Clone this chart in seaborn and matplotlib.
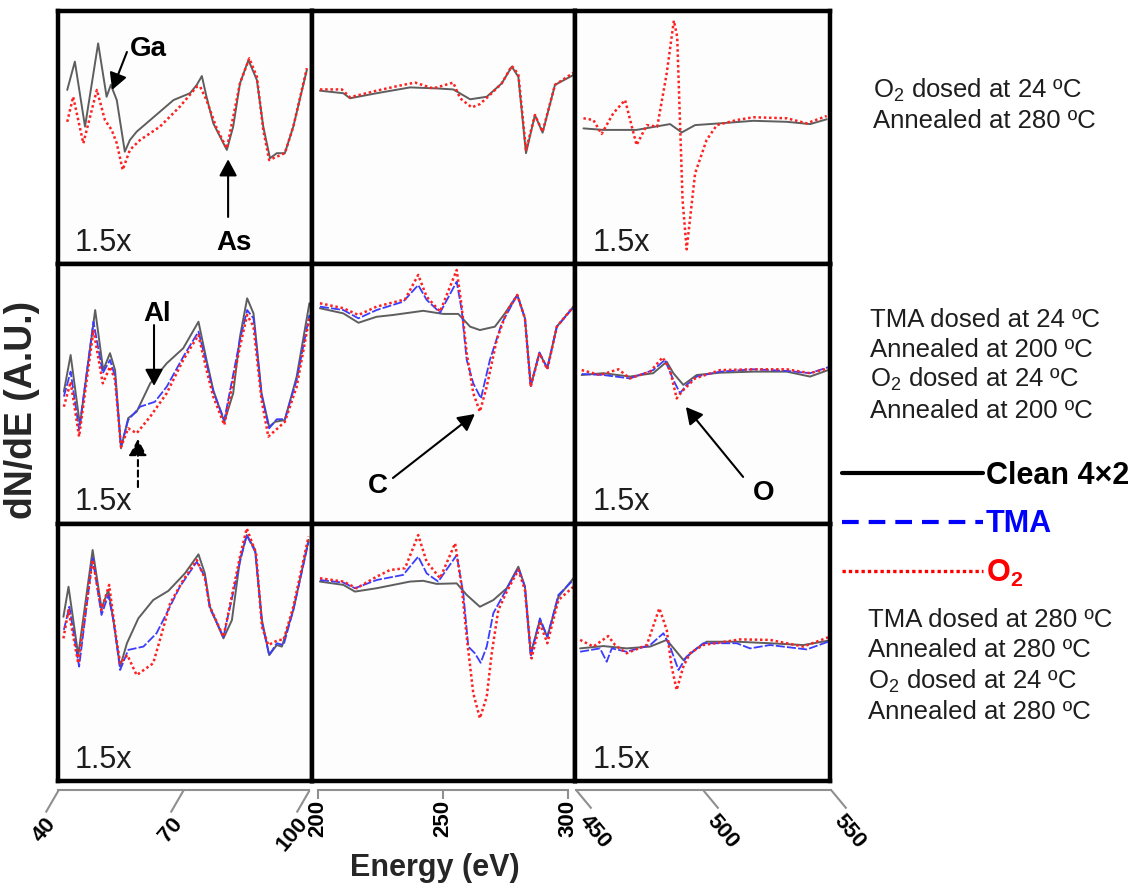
import matplotlib
matplotlib.use("Agg")
import matplotlib.pyplot as plt
from matplotlib.path import Path
from matplotlib.markers import MarkerStyle
from matplotlib.lines import Line2D
from matplotlib.transforms import ScaledTranslation
import pandas as pd
import seaborn as sns

# ---------------------------------------------------------------------------
# Auger spectra (dN/dE, arbitrary units) read per panel
# rows: O2 only / TMA 24 C + O2 / TMA 280 C + O2
# columns: Ga-As region (40-100 eV), C region (200-300 eV), O region (450-550 eV)
# ---------------------------------------------------------------------------

# --- row 1: O2 dosed at 24 C, annealed at 280 C ---
o2only_gaas_clean_e = [42.3, 44.1, 46.5, 49.6, 51.6, 52.6, 54.0, 55.9, 57.1, 58.7, 61.9, 67.4, 71.3, 72.9,
                       74.1, 75.2, 76.8, 78.8, 80.0, 81.5, 83.1, 85.1, 87.1, 88.6, 90.2, 91.8, 93.7, 95.7, 98.9]
o2only_gaas_clean = [68.8, 80.0, 54.3, 87.2, 66.1, 70.8, 64.8, 44.4, 49.0, 52.3, 56.9, 64.8, 67.5, 70.8,
                     74.3, 66.1, 55.6, 49.0, 45.1, 54.3, 71.4, 80.6, 72.7, 54.3, 41.8, 43.8, 43.8, 54.3, 76.7]
o2only_gaas_o2_e = [42.3, 43.7, 46.1, 49.3, 51.2, 52.8, 54.0, 55.4, 57.1, 59.5, 64.2, 68.9, 72.9, 73.7,
                    75.2, 77.6, 80.0, 83.1, 85.3, 87.1, 88.6, 90.0, 93.7, 95.7, 98.9]
o2only_gaas_o2 = [56.2, 66.1, 47.7, 68.8, 56.9, 53.0, 47.7, 37.2, 45.1, 49.0, 54.3, 62.2, 70.1, 70.1,
                  64.8, 53.6, 45.7, 71.4, 81.3, 74.0, 53.0, 41.1, 43.8, 54.3, 77.4]

o2only_carbon_clean_e = [203.2, 212.1, 214.6, 224.7, 237.4, 247.5, 253.8, 260.2, 266.5, 272.2, 276.0, 278.5,
                         281.4, 284.8, 287.7, 292.4, 299.4]
o2only_carbon_clean = [68.5, 67.5, 65.5, 67.5, 69.8, 69.4, 69.0, 65.1, 66.1, 71.4, 78.0, 74.0,
                       43.8, 58.9, 51.9, 70.8, 74.7]
o2only_carbon_o2_e = [203.2, 211.5, 214.6, 224.7, 232.9, 239.3, 246.2, 253.8, 256.4, 260.8, 263.9, 267.7,
                      272.2, 276.0, 278.5, 281.4, 284.8, 287.7, 292.4, 299.4]
o2only_carbon_o2 = [69.0, 69.0, 65.9, 68.5, 70.4, 71.7, 69.4, 71.7, 65.5, 61.9, 63.2, 66.8,
                    71.4, 78.3, 75.0, 45.1, 58.9, 52.3, 70.8, 75.6]

o2only_oxygen_clean_e = [453.3, 461.1, 474.1, 487.2, 491.8, 497.0, 506.8, 519.8, 532.9, 542.0, 548.5]
o2only_oxygen_clean = [53.6, 53.0, 53.0, 55.3, 52.0, 54.9, 55.6, 56.6, 56.2, 55.3, 57.2]
o2only_oxygen_o2_e = [453.3, 457.2, 460.4, 465.0, 469.6, 474.1, 478.1, 482.2, 485.9, 488.7, 490.0, 492.1,
                      493.7, 497.0, 501.5, 505.5, 513.3, 519.8, 532.9, 540.7, 548.5]
o2only_oxygen_o2 = [57.6, 56.9, 51.4, 59.6, 64.8, 47.0, 54.9, 54.3, 75.4, 96.2, 89.8, 25.3,
                    5.8, 35.8, 49.0, 54.9, 56.9, 58.0, 57.6, 55.6, 58.5]

# --- row 2: TMA dosed at 24 C, annealed at 200 C, then O2 ---
tma24_gaas_clean_e = [41.5, 43.1, 45.3, 48.9, 50.8, 52.4, 53.6, 55.0, 56.7, 58.7, 61.9, 65.8, 69.7, 73.3,
                      75.2, 76.8, 79.4, 81.5, 83.1, 84.8, 86.3, 88.2, 90.0, 91.4, 93.7, 96.5, 99.5]
tma24_gaas_clean = [50.9, 65.0, 38.1, 82.3, 59.2, 65.7, 59.2, 29.1, 40.7, 43.2, 54.1, 61.8, 67.6, 77.8,
                    63.1, 51.5, 39.3, 50.3, 72.0, 86.8, 81.0, 50.3, 37.4, 39.3, 40.0, 56.7, 84.9]
tma24_gaas_tma_e = [41.5, 43.1, 45.1, 48.5, 50.7, 52.4, 53.6, 55.0, 56.7, 59.5, 63.0, 65.8, 69.7, 73.3,
                    75.2, 76.8, 79.4, 83.1, 84.8, 86.3, 88.2, 90.0, 91.8, 93.7, 96.5, 99.5]
tma24_gaas_tma = [49.0, 58.6, 36.2, 77.8, 58.0, 63.1, 56.7, 29.7, 40.0, 45.1, 47.0, 52.8, 64.3, 74.0,
                  61.8, 50.9, 40.0, 70.8, 82.3, 79.1, 49.6, 36.8, 40.3, 40.3, 55.4, 80.4]
tma24_gaas_o2_e = [41.5, 43.1, 45.1, 48.5, 50.7, 52.4, 53.6, 55.0, 56.7, 58.7, 61.9, 65.8, 69.7, 73.3,
                   75.2, 76.8, 79.4, 83.1, 84.8, 86.3, 88.2, 89.8, 93.7, 96.5, 99.5]
tma24_gaas_o2 = [45.1, 54.7, 33.6, 74.6, 54.1, 60.5, 55.4, 29.7, 36.8, 34.9, 41.3, 50.3, 63.1, 72.7,
                 59.2, 49.0, 38.1, 68.2, 80.4, 75.9, 47.7, 33.6, 39.3, 52.8, 79.1]

tma24_carbon_clean_e = [203.2, 212.1, 217.8, 224.7, 231.0, 242.4, 250.0, 255.7, 260.2, 263.9, 269.6, 273.4,
                        278.1, 281.0, 283.2, 286.5, 289.5, 293.1, 299.4]
tma24_carbon_clean = [83.0, 81.0, 77.4, 79.7, 80.4, 82.0, 80.8, 80.8, 75.9, 74.6, 75.9, 81.0,
                      88.1, 79.1, 53.1, 65.7, 59.9, 75.9, 83.6]
tma24_carbon_tma_e = [203.2, 212.1, 217.8, 224.7, 234.8, 240.5, 243.7, 248.8, 255.1, 257.0, 258.9, 261.4,
                      264.3, 267.7, 272.2, 278.1, 281.0, 283.2, 286.5, 289.5, 293.1, 299.4]
tma24_carbon_tma = [83.6, 82.3, 79.1, 82.3, 85.5, 91.9, 86.2, 81.3, 93.2, 82.3, 63.1, 54.1,
                    48.3, 63.1, 77.2, 88.1, 79.1, 53.1, 66.0, 59.9, 75.9, 83.3]
tma24_carbon_o2_e = [203.2, 212.1, 217.8, 224.7, 235.5, 240.5, 243.7, 248.8, 255.1, 257.0, 258.9, 261.4,
                     263.9, 266.5, 270.3, 274.1, 278.1, 281.0, 283.2, 286.5, 289.5, 293.1, 299.4]
tma24_carbon_o2 = [84.9, 83.0, 80.4, 83.6, 86.4, 95.8, 87.4, 81.7, 97.7, 83.6, 65.7, 50.3,
                   43.2, 52.8, 70.8, 81.7, 88.1, 79.1, 52.8, 65.7, 59.5, 75.9, 83.6]

tma24_oxygen_clean_e = [452.6, 461.1, 471.5, 480.6, 485.9, 488.5, 492.4, 497.6, 506.8, 519.8, 532.9, 542.0, 549.1]
tma24_oxygen_clean = [57.3, 58.0, 56.7, 58.0, 62.4, 58.0, 53.5, 57.3, 58.2, 58.6, 58.6, 56.7, 59.2]
tma24_oxygen_tma_e = [452.6, 461.1, 471.5, 480.6, 485.2, 488.5, 491.1, 493.7, 497.6, 506.8, 519.8, 532.9,
                      542.0, 549.1]
tma24_oxygen_tma = [57.7, 57.3, 56.0, 59.2, 63.1, 55.4, 50.3, 53.5, 56.7, 58.6, 59.5, 58.9, 58.0, 60.3]
tma24_oxygen_o2_e = [452.6, 459.8, 467.0, 471.5, 479.4, 484.3, 487.2, 489.8, 491.8, 497.0, 506.8, 519.8,
                     532.9, 542.0, 549.1]
tma24_oxygen_o2 = [59.2, 57.3, 59.5, 56.0, 58.6, 64.1, 59.2, 48.3, 50.9, 56.0, 59.2, 59.5, 59.5, 58.0, 59.9]

# --- row 3: TMA dosed at 280 C, annealed at 280 C, then O2 ---
tma280_gaas_clean_e = [41.4, 42.6, 44.9, 48.3, 50.4, 52.0, 53.2, 54.8, 56.4, 59.1, 62.6, 66.2, 70.1, 73.3,
                       74.8, 76.0, 79.2, 81.2, 83.1, 84.7, 86.7, 88.3, 90.0, 91.8, 93.0, 95.7, 99.3]
tma280_gaas_clean = [63.9, 75.6, 49.0, 89.9, 67.2, 74.3, 62.6, 44.5, 53.6, 63.3, 70.4, 74.0, 80.8, 88.2,
                     80.8, 67.8, 55.5, 62.6, 86.0, 95.7, 89.9, 62.6, 49.0, 52.9, 52.3, 66.5, 93.8]
tma280_gaas_tma_e = [41.5, 42.8, 45.1, 48.3, 50.4, 52.0, 53.2, 54.8, 56.7, 60.3, 63.4, 65.8, 68.9, 72.9,
                     74.8, 76.0, 79.2, 83.1, 84.7, 86.7, 88.3, 90.0, 91.8, 93.4, 95.7, 99.3]
tma280_gaas_tma = [58.8, 67.8, 44.5, 86.7, 64.6, 72.4, 62.6, 43.2, 51.0, 52.3, 57.5, 65.3, 75.6, 85.3,
                   79.5, 67.2, 56.1, 85.3, 95.7, 89.2, 61.4, 49.0, 53.6, 52.9, 66.5, 93.1]
tma280_gaas_o2_e = [41.4, 42.6, 44.9, 48.3, 50.4, 52.2, 53.6, 54.8, 56.5, 58.7, 62.6, 64.4, 66.6, 69.7,
                    72.9, 74.8, 76.0, 79.2, 83.1, 84.7, 86.9, 88.3, 89.8, 92.2, 93.4, 95.7, 99.3]
tma280_gaas_o2 = [55.5, 66.5, 45.8, 86.0, 66.5, 76.3, 58.8, 45.8, 49.0, 41.2, 45.8, 56.1, 69.1, 78.2,
                  86.0, 78.9, 67.8, 56.1, 87.3, 98.3, 88.6, 60.0, 52.9, 54.9, 54.9, 67.8, 95.1]

tma280_carbon_clean_e = [203.2, 212.1, 216.5, 224.7, 237.4, 242.4, 247.5, 255.1, 258.9, 263.9, 269.0, 274.1,
                         278.5, 281.0, 283.2, 286.7, 289.5, 293.7, 299.4]
tma280_carbon_clean = [77.6, 76.3, 73.7, 75.0, 77.6, 77.9, 76.7, 76.9, 72.4, 67.8, 70.4, 75.0,
                       83.4, 75.6, 49.7, 62.6, 56.1, 71.7, 78.9]
tma280_carbon_tma_e = [203.2, 212.1, 216.5, 224.7, 234.8, 240.5, 243.7, 248.1, 255.1, 257.6, 259.5, 262.0,
                       264.2, 266.5, 269.0, 272.8, 278.5, 281.0, 283.2, 286.7, 289.5, 293.7, 299.4]
tma280_carbon_tma = [78.2, 77.2, 75.0, 78.2, 80.2, 87.3, 80.8, 77.6, 87.9, 73.0, 52.3, 49.7,
                     46.0, 52.3, 65.3, 72.4, 82.8, 75.6, 48.4, 63.3, 56.1, 72.4, 78.2]
tma280_carbon_o2_e = [203.2, 212.1, 217.1, 224.7, 229.8, 235.5, 240.5, 243.7, 248.8, 254.5, 257.0, 258.9,
                      261.4, 263.9, 266.5, 268.4, 270.9, 274.1, 278.5, 281.0, 283.5, 286.7, 289.5, 293.7, 299.4]
tma280_carbon_o2 = [78.9, 77.6, 75.0, 79.5, 82.1, 82.8, 95.7, 85.3, 78.9, 92.5, 75.6, 56.1,
                    34.1, 24.4, 32.8, 49.7, 66.5, 73.7, 82.1, 74.3, 47.7, 61.4, 53.6, 70.4, 75.6]

tma280_oxygen_clean_e = [452.0, 461.1, 470.2, 479.4, 485.9, 492.4, 497.6, 501.5, 513.3, 526.3, 539.4, 549.1]
tma280_oxygen_clean = [51.6, 52.5, 51.6, 52.3, 54.9, 47.1, 51.6, 54.2, 54.2, 53.6, 52.9, 54.6]
tma280_oxygen_tma_e = [452.0, 459.8, 462.4, 464.4, 470.2, 479.4, 484.6, 487.2, 490.5, 493.7, 500.2, 513.3,
                       518.5, 526.3, 540.7, 549.1]
tma280_oxygen_tma = [50.3, 51.6, 46.4, 51.6, 50.3, 52.9, 57.5, 52.3, 43.2, 48.4, 53.6, 53.6,
                     51.6, 52.9, 51.2, 54.2]
tma280_oxygen_o2_e = [452.0, 457.2, 463.0, 465.7, 470.2, 478.1, 483.0, 485.9, 487.8, 489.8, 492.4, 495.0,
                      500.2, 514.6, 526.3, 539.4, 549.1]
tma280_oxygen_o2 = [54.9, 52.3, 56.4, 52.9, 49.7, 52.9, 67.2, 58.8, 44.5, 35.4, 44.5, 49.7,
                    52.9, 55.1, 54.9, 52.3, 55.9]

# axis ranges and tick labels for the three energy windows
energy_ranges = [(40, 100), (200, 300), (450, 550)]
energy_ticks = [[40, 70, 100], [200, 250, 300], [450, 500, 550]]

legend_labels = ["Clean 4\u00d72", "TMA", "O$_\\mathbf{2}$"]

row_notes = [
    ["O$_2$ dosed at 24 \u00baC", "Annealed at 280 \u00baC"],
    ["TMA dosed at 24 \u00baC", "Annealed at 200 \u00baC", "O$_2$ dosed at 24 \u00baC", "Annealed at 200 \u00baC"],
    ["TMA dosed at 280 \u00baC", "Annealed at 280 \u00baC", "O$_2$ dosed at 24 \u00baC", "Annealed at 280 \u00baC"],
]

# ---------------------------------------------------------------------------
sns.set_style("white")
plt.rcParams["font.family"] = ["Liberation Sans", "DejaVu Sans"]
plt.rcParams["mathtext.fontset"] = "custom"
plt.rcParams["mathtext.rm"] = "Liberation Sans"
plt.rcParams["mathtext.it"] = "Liberation Sans:italic"
plt.rcParams["mathtext.bf"] = "Liberation Sans:bold"

panels = {
    (0, 0): [("clean", o2only_gaas_clean_e, o2only_gaas_clean), ("o2", o2only_gaas_o2_e, o2only_gaas_o2)],
    (0, 1): [("clean", o2only_carbon_clean_e, o2only_carbon_clean), ("o2", o2only_carbon_o2_e, o2only_carbon_o2)],
    (0, 2): [("clean", o2only_oxygen_clean_e, o2only_oxygen_clean), ("o2", o2only_oxygen_o2_e, o2only_oxygen_o2)],
    (1, 0): [("clean", tma24_gaas_clean_e, tma24_gaas_clean), ("tma", tma24_gaas_tma_e, tma24_gaas_tma),
             ("o2", tma24_gaas_o2_e, tma24_gaas_o2)],
    (1, 1): [("clean", tma24_carbon_clean_e, tma24_carbon_clean), ("tma", tma24_carbon_tma_e, tma24_carbon_tma),
             ("o2", tma24_carbon_o2_e, tma24_carbon_o2)],
    (1, 2): [("clean", tma24_oxygen_clean_e, tma24_oxygen_clean), ("tma", tma24_oxygen_tma_e, tma24_oxygen_tma),
             ("o2", tma24_oxygen_o2_e, tma24_oxygen_o2)],
    (2, 0): [("clean", tma280_gaas_clean_e, tma280_gaas_clean), ("tma", tma280_gaas_tma_e, tma280_gaas_tma),
             ("o2", tma280_gaas_o2_e, tma280_gaas_o2)],
    (2, 1): [("clean", tma280_carbon_clean_e, tma280_carbon_clean), ("tma", tma280_carbon_tma_e, tma280_carbon_tma),
             ("o2", tma280_carbon_o2_e, tma280_carbon_o2)],
    (2, 2): [("clean", tma280_oxygen_clean_e, tma280_oxygen_clean), ("tma", tma280_oxygen_tma_e, tma280_oxygen_tma),
             ("o2", tma280_oxygen_o2_e, tma280_oxygen_o2)],
}

line_styles = {
    "clean": dict(color="#5e5e5e", linewidth=1.4, linestyle="-"),
    "tma": dict(color="#3c3cff", linewidth=1.3, linestyle=(0, (5, 1.2))),
    "o2": dict(color="#ff2020", linewidth=1.8, linestyle=(0, (1, 1.1))),
}

W, H = 1144, 888
fig = plt.figure(figsize=(W / 100, H / 100), dpi=100)
gs = fig.add_gridspec(3, 3, left=57.5 / W, right=830.5 / W, top=1 - 11 / H, bottom=1 - 781 / H,
                      wspace=0, hspace=0, width_ratios=[254, 263.5, 255.5], height_ratios=[253, 260, 257])

axes = {}
for (r, c), series in panels.items():
    ax = fig.add_subplot(gs[r, c])
    axes[(r, c)] = ax
    for name, e, v in series:
        df = pd.DataFrame({"energy": e, "dNdE": v})
        sns.lineplot(data=df, x="energy", y="dNdE", ax=ax, sort=False, estimator=None,
                     legend=False, **line_styles[name])
    ax.set_xlim(*energy_ranges[c])
    ax.set_ylim(0, 100)
    ax.set_xticks([])
    ax.set_yticks([])
    ax.set_xlabel("")
    ax.set_ylabel("")
    ax.set_facecolor("#fdfdfd")
    for sp in ax.spines.values():
        sp.set_visible(True)
        sp.set_color("black")
        sp.set_linewidth(3.2)
    if c != 1:
        ax.text(0.068, 0.052, "1.5x", transform=ax.transAxes, fontsize=22,
                color="#1e1e1e", va="baseline", ha="left")

# --- peak labels and arrows ---
arrow_kw = dict(arrowstyle="-|>,head_length=0.67,head_width=0.36", lw=1.5, color="black",
                shrinkA=0, shrinkB=0, mutation_scale=15)
label_kw = dict(fontsize=20, fontweight="bold", color="black")

ax = axes[(0, 0)]
ax.annotate("", xy=(52.9, 68.8), xytext=(56.4, 83.8), arrowprops=arrow_kw)
ax.text(57.1, 85.0, "Ga", ha="left", va="center", **label_kw)
ax.annotate("", xy=(80.3, 41.4), xytext=(80.3, 18.6), arrowprops=arrow_kw)
ax.text(81.6, 5.5, "As", ha="center", va="baseline", **label_kw)

ax = axes[(1, 0)]
ax.annotate("", xy=(62.8, 53.1), xytext=(62.8, 76.5), arrowprops=arrow_kw)
ax.text(63.6, 80.8, "Al", ha="center", va="center", **label_kw)
ax.annotate("", xy=(59.0, 32.7), xytext=(59.0, 14.2), arrowprops=dict(arrow_kw, linestyle=(0, (3, 2))))

ax = axes[(1, 1)]
ax.annotate("", xy=(262.0, 42.3), xytext=(230.9, 17.7), arrowprops=arrow_kw)
ax.text(225.2, 14.6, "C", ha="center", va="center", **label_kw)

ax = axes[(1, 2)]
ax.annotate("", xy=(493.4, 45.0), xytext=(515.8, 18.1), arrowprops=arrow_kw)
ax.text(523.8, 12.1, "O", ha="center", va="center", **label_kw)

# --- energy axes below the panel grid ---
axis_spans = [(57.5, 309.0), (318.0, 568.0), (576.0, 830.5)]
tick_paths = [Path([(0, 0), (-0.58, -1)]), None, Path([(0, 0), (0.83, -1)])]
tick_sizes = [31.7, 6.5, 26.0]
label_rot = [50, 90, -50]
label_ha = ["right", "center", "left"]
label_mode = ["anchor", "default", "anchor"]
label_pad = [17.0, 0.8, 15.0]
label_dx = [-13, 0, 15]
spine_y = 1 - 790 / H

for c in range(3):
    x0, x1 = axis_spans[c]
    bax = fig.add_axes([x0 / W, spine_y, (x1 - x0) / W, 0.001])
    bax.set_facecolor("none")
    bax.set_xlim(*energy_ranges[c])
    bax.set_yticks([])
    for side in ("top", "left", "right"):
        bax.spines[side].set_visible(False)
    bax.spines["bottom"].set_color("#8f8f8f")
    bax.spines["bottom"].set_linewidth(1.5)
    bax.set_xticks(energy_ticks[c])
    bax.set_xticklabels([str(t) for t in energy_ticks[c]], rotation=label_rot[c], ha=label_ha[c],
                        va="top", rotation_mode=label_mode[c], fontsize=16, fontweight="bold")
    bax.tick_params(axis="x", bottom=True, length=0 if tick_paths[c] is not None else tick_sizes[c],
                    width=1.5, pad=label_pad[c], color="#8f8f8f", labelcolor="black")
    for t in bax.xaxis.get_major_ticks():
        if tick_paths[c] is not None:
            t.tick1line.set_marker(MarkerStyle(tick_paths[c], fillstyle="none"))
            t.tick1line.set_markersize(tick_sizes[c])
            t.tick1line.set_markeredgewidth(1.5)
            t.tick1line.set_markeredgecolor("#8f8f8f")
        if label_dx[c]:
            t.label1.set_transform(t.label1.get_transform() +
                                   ScaledTranslation(label_dx[c] / 100, 0, fig.dpi_scale_trans))

fig.text(435 / W, 1 - 868 / H, "Energy (eV)", ha="center", va="center", fontsize=22, fontweight="bold")
fig.text(22 / W, 1 - 410 / H, "dN/dE (A.U.)", ha="center", va="center", rotation=90,
         fontsize=27, fontweight="bold")

# --- legend ---
handles = [Line2D([], [], color="black", lw=3.0),
           Line2D([], [], color="#0000ff", lw=3.0, linestyle=(0, (4, 2.4))),
           Line2D([], [], color="#ff0000", lw=2.4, linestyle=(0, (1, 0.9)))]
leg = fig.legend(handles, legend_labels, loc="center left", bbox_to_anchor=(842 / W, 1 - 525 / H),
                 frameon=False, handlelength=4.6, handletextpad=0.1, labelspacing=0.6,
                 borderpad=0, borderaxespad=0, prop={"weight": "bold", "size": 22})
for txt, col in zip(leg.get_texts(), ["black", "#0000ff", "#ff0000"]):
    txt.set_color(col)

# --- treatment notes beside each row ---
note_pos = [
    (873, [98, 128]),
    (870, [327, 357, 387, 418]),
    (868, [627, 657, 689, 719]),
]
for (x, ys), lines in zip(note_pos, row_notes):
    for y, s in zip(ys, lines):
        fig.text(x / W, 1 - y / H, s, ha="left", va="baseline", fontsize=18.5, color="#1e1e1e")

fig.savefig("out.png", dpi=100)
